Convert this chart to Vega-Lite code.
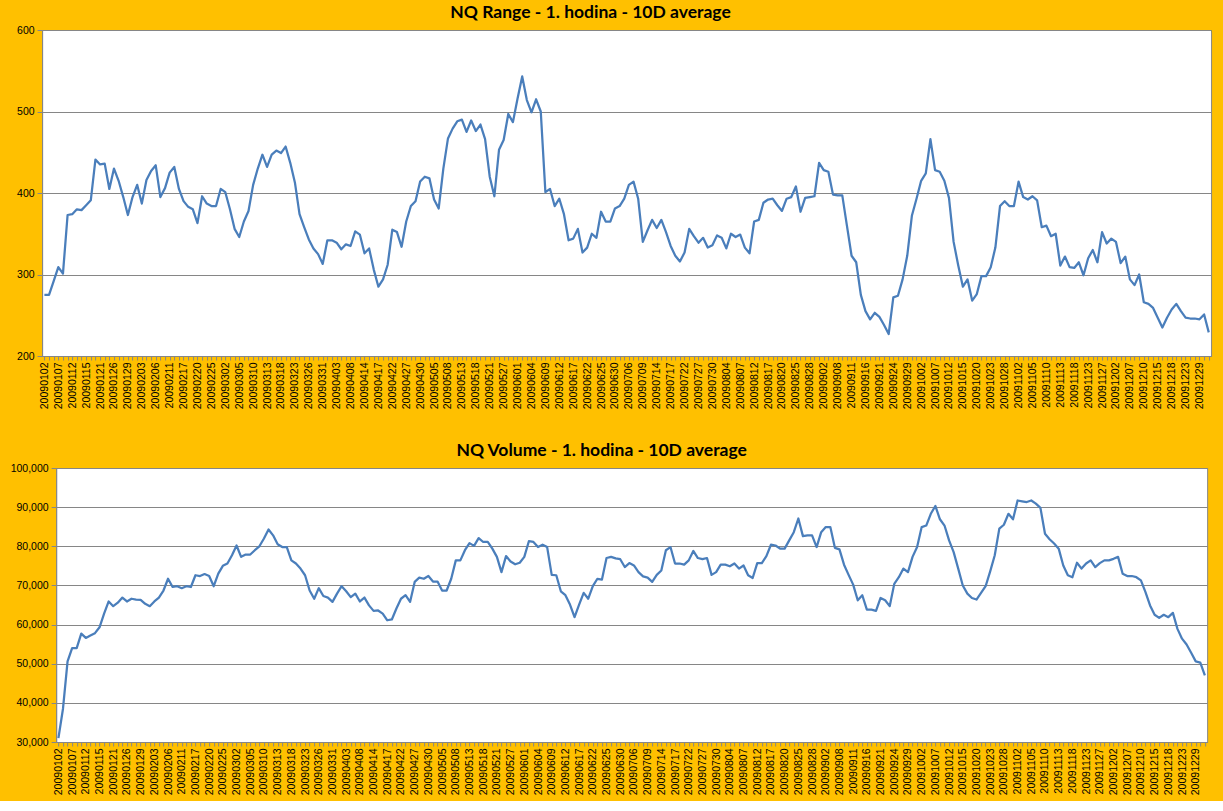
{
  "$schema": "https://vega.github.io/schema/vega-lite/v6.json",
  "background": "#FFC000",
  "padding": {"left": 9, "top": 3, "right": 0, "bottom": 5},
  "spacing": 31,
  "center": true,
  "config": {
    "view": {"fill": "white", "stroke": "#868686", "strokeWidth": 1},
    "axis": {"labelFont": "Liberation Sans", "labelFontSize": 10.5, "labelColor": "#000000", "tickColor": "#868686", "domainColor": "#868686", "gridColor": "#868686", "gridWidth": 1, "title": null},
    "title": {"font": "Lato", "fontSize": 17.5, "fontWeight": "bold", "color": "#000000", "offset": 4, "frame": "group"}
  },
  "data": {"values": [
{"date":"20090102","range":275,"volume":31000},{"date":"20090105","range":275,"volume":38500},{"date":"20090106","range":292,"volume":50600},{"date":"20090107","range":309,"volume":54000},{"date":"20090108","range":301,"volume":54000},{"date":"20090109","range":373,"volume":57700},{"date":"20090112","range":374,"volume":56600},{"date":"20090113","range":380,"volume":57200},{"date":"20090114","range":379,"volume":57800},{"date":"20090115","range":385,"volume":59300},
{"date":"20090116","range":391,"volume":62800},{"date":"20090120","range":441,"volume":65900},{"date":"20090121","range":435,"volume":64700},{"date":"20090122","range":436,"volume":65600},{"date":"20090123","range":405,"volume":66900},{"date":"20090126","range":430,"volume":65900},{"date":"20090127","range":415,"volume":66600},{"date":"20090128","range":395,"volume":66400},{"date":"20090129","range":373,"volume":66300},{"date":"20090130","range":395,"volume":65300},
{"date":"20090202","range":410,"volume":64700},{"date":"20090203","range":387,"volume":65900},{"date":"20090204","range":416,"volume":66900},{"date":"20090205","range":427,"volume":68700},{"date":"20090206","range":434,"volume":71700},{"date":"20090209","range":395,"volume":69600},{"date":"20090210","range":406,"volume":69800},{"date":"20090211","range":425,"volume":69300},{"date":"20090212","range":432,"volume":69800},{"date":"20090213","range":405,"volume":69600},
{"date":"20090217","range":390,"volume":72600},{"date":"20090218","range":383,"volume":72400},{"date":"20090219","range":380,"volume":72900},{"date":"20090220","range":363,"volume":72400},{"date":"20090223","range":396,"volume":69800},{"date":"20090224","range":387,"volume":73000},{"date":"20090225","range":384,"volume":75000},{"date":"20090226","range":384,"volume":75600},{"date":"20090227","range":405,"volume":77700},{"date":"20090302","range":401,"volume":80200},
{"date":"20090303","range":380,"volume":77300},{"date":"20090304","range":356,"volume":77900},{"date":"20090305","range":346,"volume":77900},{"date":"20090306","range":365,"volume":79000},{"date":"20090309","range":378,"volume":80000},{"date":"20090310","range":410,"volume":82000},{"date":"20090311","range":430,"volume":84300},{"date":"20090312","range":447,"volume":82800},{"date":"20090313","range":432,"volume":80500},{"date":"20090316","range":447,"volume":79800},
{"date":"20090317","range":452,"volume":79800},{"date":"20090318","range":449,"volume":76400},{"date":"20090319","range":457,"volume":75600},{"date":"20090320","range":437,"volume":74300},{"date":"20090323","range":413,"volume":72600},{"date":"20090324","range":374,"volume":68700},{"date":"20090325","range":358,"volume":66600},{"date":"20090326","range":343,"volume":69300},{"date":"20090327","range":332,"volume":67300},{"date":"20090330","range":325,"volume":66900},
{"date":"20090331","range":313,"volume":65800},{"date":"20090401","range":342,"volume":67900},{"date":"20090402","range":342,"volume":69800},{"date":"20090403","range":339,"volume":68500},{"date":"20090406","range":331,"volume":67000},{"date":"20090407","range":337,"volume":67900},{"date":"20090408","range":335,"volume":65900},{"date":"20090409","range":353,"volume":66900},{"date":"20090413","range":349,"volume":64900},{"date":"20090414","range":326,"volume":63500},
{"date":"20090415","range":332,"volume":63600},{"date":"20090416","range":306,"volume":62800},{"date":"20090417","range":285,"volume":61100},{"date":"20090420","range":294,"volume":61300},{"date":"20090421","range":312,"volume":64100},{"date":"20090422","range":355,"volume":66600},{"date":"20090423","range":352,"volume":67500},{"date":"20090424","range":334,"volume":65800},{"date":"20090427","range":365,"volume":70900},{"date":"20090428","range":384,"volume":72000},
{"date":"20090429","range":390,"volume":71700},{"date":"20090430","range":414,"volume":72400},{"date":"20090501","range":420,"volume":71000},{"date":"20090504","range":418,"volume":71000},{"date":"20090505","range":392,"volume":68700},{"date":"20090506","range":381,"volume":68700},{"date":"20090507","range":430,"volume":71700},{"date":"20090508","range":467,"volume":76400},{"date":"20090511","range":479,"volume":76400},{"date":"20090512","range":488,"volume":79000},
{"date":"20090513","range":490,"volume":80800},{"date":"20090514","range":475,"volume":80100},{"date":"20090515","range":489,"volume":82100},{"date":"20090518","range":476,"volume":81100},{"date":"20090519","range":484,"volume":81100},{"date":"20090520","range":466,"volume":79400},{"date":"20090521","range":420,"volume":77300},{"date":"20090522","range":396,"volume":73400},{"date":"20090526","range":453,"volume":77500},{"date":"20090527","range":465,"volume":76100},
{"date":"20090528","range":497,"volume":75400},{"date":"20090529","range":487,"volume":75800},{"date":"20090601","range":516,"volume":77300},{"date":"20090602","range":543,"volume":81300},{"date":"20090603","range":514,"volume":81100},{"date":"20090604","range":499,"volume":79800},{"date":"20090605","range":515,"volume":80400},{"date":"20090608","range":500,"volume":79800},{"date":"20090609","range":401,"volume":72700},{"date":"20090610","range":405,"volume":72600},
{"date":"20090611","range":384,"volume":68500},{"date":"20090612","range":393,"volume":67500},{"date":"20090615","range":374,"volume":65100},{"date":"20090616","range":342,"volume":61900},{"date":"20090617","range":344,"volume":65100},{"date":"20090618","range":356,"volume":68100},{"date":"20090619","range":327,"volume":66600},{"date":"20090622","range":333,"volume":69800},{"date":"20090623","range":350,"volume":71700},{"date":"20090624","range":345,"volume":71500},
{"date":"20090625","range":377,"volume":77000},{"date":"20090626","range":365,"volume":77300},{"date":"20090629","range":365,"volume":76900},{"date":"20090630","range":381,"volume":76700},{"date":"20090701","range":384,"volume":74700},{"date":"20090702","range":393,"volume":75700},{"date":"20090706","range":410,"volume":75100},{"date":"20090707","range":414,"volume":73400},{"date":"20090708","range":393,"volume":72300},{"date":"20090709","range":340,"volume":72000},
{"date":"20090710","range":354,"volume":70900},{"date":"20090713","range":367,"volume":72700},{"date":"20090714","range":357,"volume":73800},{"date":"20090715","range":367,"volume":79000},{"date":"20090716","range":352,"volume":79800},{"date":"20090717","range":335,"volume":75600},{"date":"20090720","range":323,"volume":75600},{"date":"20090721","range":316,"volume":75300},{"date":"20090722","range":327,"volume":76400},{"date":"20090723","range":356,"volume":78800},
{"date":"20090724","range":347,"volume":77000},{"date":"20090727","range":339,"volume":76700},{"date":"20090728","range":345,"volume":77000},{"date":"20090729","range":333,"volume":72700},{"date":"20090730","range":336,"volume":73400},{"date":"20090731","range":348,"volume":75300},{"date":"20090803","range":345,"volume":75300},{"date":"20090804","range":332,"volume":74900},{"date":"20090805","range":350,"volume":75600},{"date":"20090806","range":346,"volume":74300},
{"date":"20090807","range":349,"volume":75100},{"date":"20090810","range":333,"volume":72600},{"date":"20090811","range":326,"volume":71900},{"date":"20090812","range":365,"volume":75700},{"date":"20090813","range":367,"volume":75700},{"date":"20090814","range":388,"volume":77500},{"date":"20090817","range":392,"volume":80400},{"date":"20090818","range":393,"volume":80200},{"date":"20090819","range":385,"volume":79400},{"date":"20090820","range":378,"volume":79400},
{"date":"20090821","range":393,"volume":81500},{"date":"20090824","range":395,"volume":83600},{"date":"20090825","range":408,"volume":87100},{"date":"20090826","range":377,"volume":82600},{"date":"20090827","range":394,"volume":82800},{"date":"20090828","range":395,"volume":82800},{"date":"20090831","range":396,"volume":79800},{"date":"20090901","range":437,"volume":83600},{"date":"20090902","range":428,"volume":84900},{"date":"20090903","range":426,"volume":84900},
{"date":"20090904","range":398,"volume":79600},{"date":"20090908","range":397,"volume":79200},{"date":"20090909","range":397,"volume":75300},{"date":"20090910","range":360,"volume":72700},{"date":"20090911","range":323,"volume":70200},{"date":"20090914","range":315,"volume":66200},{"date":"20090915","range":275,"volume":67500},{"date":"20090916","range":255,"volume":63800},{"date":"20090917","range":245,"volume":63800},{"date":"20090918","range":253,"volume":63500},
{"date":"20090921","range":248,"volume":66800},{"date":"20090922","range":238,"volume":66200},{"date":"20090923","range":227,"volume":64700},{"date":"20090924","range":272,"volume":70400},{"date":"20090925","range":274,"volume":72100},{"date":"20090928","range":294,"volume":74300},{"date":"20090929","range":323,"volume":73400},{"date":"20090930","range":372,"volume":77300},{"date":"20091001","range":393,"volume":79800},{"date":"20091002","range":415,"volume":84900},
{"date":"20091005","range":424,"volume":85300},{"date":"20091006","range":466,"volume":88300},{"date":"20091007","range":428,"volume":90300},{"date":"20091008","range":426,"volume":86900},{"date":"20091009","range":415,"volume":85300},{"date":"20091012","range":394,"volume":81500},{"date":"20091013","range":340,"volume":78500},{"date":"20091014","range":311,"volume":74300},{"date":"20091015","range":285,"volume":70000},{"date":"20091016","range":294,"volume":67900},
{"date":"20091019","range":268,"volume":66800},{"date":"20091020","range":276,"volume":66400},{"date":"20091021","range":298,"volume":68100},{"date":"20091022","range":298,"volume":69800},{"date":"20091023","range":309,"volume":73600},{"date":"20091026","range":333,"volume":77700},{"date":"20091027","range":384,"volume":84500},{"date":"20091028","range":390,"volume":85500},{"date":"20091029","range":384,"volume":88300},{"date":"20091030","range":384,"volume":86900},
{"date":"20091102","range":414,"volume":91700},{"date":"20091103","range":395,"volume":91500},{"date":"20091104","range":392,"volume":91300},{"date":"20091105","range":396,"volume":91700},{"date":"20091106","range":391,"volume":90900},{"date":"20091109","range":358,"volume":89800},{"date":"20091110","range":360,"volume":83200},{"date":"20091111","range":347,"volume":81800},{"date":"20091112","range":350,"volume":80700},{"date":"20091113","range":311,"volume":79400},
{"date":"20091116","range":322,"volume":75100},{"date":"20091117","range":309,"volume":72600},{"date":"20091118","range":308,"volume":72100},{"date":"20091119","range":315,"volume":75800},{"date":"20091120","range":299,"volume":74300},{"date":"20091123","range":320,"volume":75600},{"date":"20091124","range":330,"volume":76400},{"date":"20091125","range":315,"volume":74700},{"date":"20091127","range":352,"volume":75700},{"date":"20091130","range":338,"volume":76400},
{"date":"20091201","range":344,"volume":76400},{"date":"20091202","range":340,"volume":76800},{"date":"20091203","range":314,"volume":77300},{"date":"20091204","range":322,"volume":73000},{"date":"20091207","range":294,"volume":72400},{"date":"20091208","range":287,"volume":72400},{"date":"20091209","range":300,"volume":72100},{"date":"20091210","range":266,"volume":71300},{"date":"20091211","range":264,"volume":68300},{"date":"20091214","range":259,"volume":64900},
{"date":"20091215","range":247,"volume":62500},{"date":"20091216","range":235,"volume":61700},{"date":"20091217","range":247,"volume":62500},{"date":"20091218","range":257,"volume":61900},{"date":"20091221","range":264,"volume":63000},{"date":"20091222","range":255,"volume":58900},{"date":"20091223","range":247,"volume":56400},{"date":"20091224","range":246,"volume":54900},{"date":"20091228","range":246,"volume":52800},{"date":"20091229","range":245,"volume":50600},
{"date":"20091230","range":251,"volume":50300},{"date":"20091231","range":229,"volume":47000}
  ]},
  "vconcat": [
    {
      "title": {"text": "NQ Range - 1. hodina - 10D average", "dx": -36},
      "width": 1169,
      "height": 326,
      "encoding": {
        "x": {"field": "date", "type": "ordinal", "sort": null,
              "scale": {"type": "point", "padding": 0.5},
              "axis": {"labelAngle": -90, "labelOverlap": false, "labelBound": false, "labelPadding": 2, "tickSize": 4,
                       "labelExpr": "round(datum.index*251) % 3 == 0 ? datum.label : ''"}}
      },
      "layer": [
        {
          "mark": {"type": "line", "color": "#4A7EBB", "strokeWidth": 2.25, "strokeJoin": "round"},
          "encoding": {
            "y": {"field": "range", "type": "quantitative",
                  "scale": {"domain": [200, 600], "nice": false, "zero": false},
                  "axis": {"orient": "left", "values": [200, 300, 400, 500, 600], "format": "d", "grid": true, "tickSize": 5, "labelPadding": 3}}
          }
        },
        {
          "mark": {"type": "line", "opacity": 0},
          "encoding": {
            "y": {"field": "range", "type": "quantitative",
                  "axis": {"orient": "right", "values": [600], "format": "d", "grid": false, "ticks": false, "domain": false, "labelPadding": 0, "labelFontSize": 8, "labelColor": "#FFC000"}}
          }
        }
      ],
      "resolve": {"axis": {"y": "independent"}}
    },
    {
      "title": {"text": "NQ Volume  - 1. hodina - 10D average", "dx": -30},
      "width": 1151,
      "height": 274,
      "mark": {"type": "line", "color": "#4A7EBB", "strokeWidth": 2.25, "strokeJoin": "round"},
      "encoding": {
        "x": {"field": "date", "type": "ordinal", "sort": null,
              "scale": {"type": "point", "padding": 0.5},
              "axis": {"labelAngle": -90, "labelOverlap": false, "labelBound": false, "labelPadding": 2, "tickSize": 4,
                       "labelExpr": "round(datum.index*251) % 3 == 0 ? datum.label : ''"}},
        "y": {"field": "volume", "type": "quantitative",
              "scale": {"domain": [30000, 100000], "nice": false, "zero": false},
              "axis": {"values": [30000, 40000, 50000, 60000, 70000, 80000, 90000, 100000], "format": ",d", "grid": true, "tickSize": 5, "labelPadding": 3}}
      }
    }
  ]
}
